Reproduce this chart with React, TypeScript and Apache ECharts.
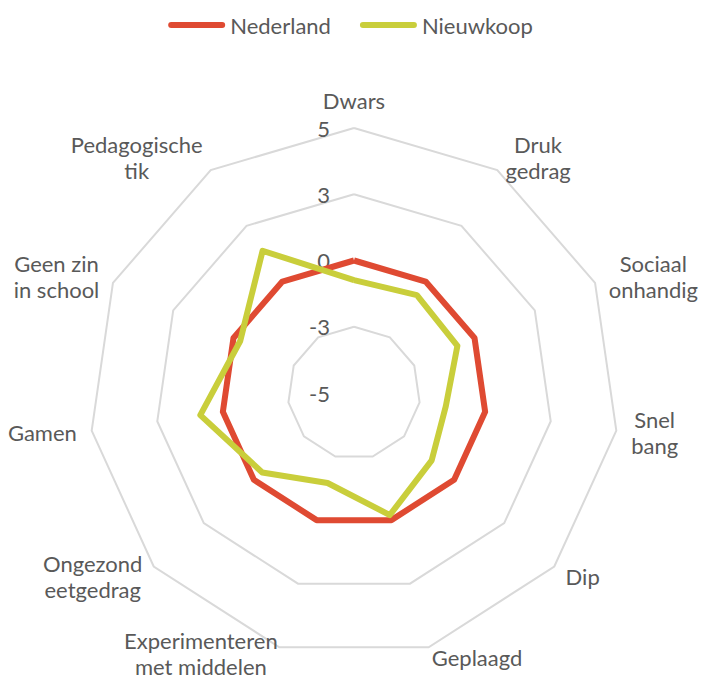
import React, { useEffect, useRef } from "react";
import * as echarts from "echarts";

const CATEGORIES = [
  "Dwars",
  "Druk\ngedrag",
  "Sociaal\nonhandig",
  "Snel\nbang",
  "Dip",
  "Geplaagd",
  "Experimenteren\nmet middelen",
  "Ongezond\neetgedrag",
  "Gamen",
  "Geen zin\nin school",
  "Pedagogische\ntik",
];
const SERIES_NAMES = ["Nederland", "Nieuwkoop"];
const NEDERLAND = [0, 0, 0, 0, 0, 0, 0, 0, 0, 0, 0];
const NIEUWKOOP = [-0.74, -0.61, -0.71, -1.5, -1.12, -0.2, -1.46, -0.42, 0.86, -0.28, 1.38];
const AXIS_MIN = -5;
const AXIS_MAX = 5;
const AXIS_SPLITS = 4;

// layout only: distance of each category name from the outer ring
const NAME_GAPS = [15, 15, 15, 15, 15, 11, 6, 15, 15, 15, 15];

const COLORS = ["#DF4A32", "#C9CE3B"];
const TEXT = "#595959";
const FONT = "Lato, 'Open Sans', sans-serif";
const FS = 22;

const roundAway = (v: number) => {
  const r = Math.sign(v) * Math.round(Math.abs(v));
  return r === 0 ? "0" : String(r);
};

// ECharts lays radar axes out counter-clockwise; reorder so they read clockwise
const ORDER = [0, ...CATEGORIES.map((_, i) => i).slice(1).reverse()];
const reorder = <T,>(arr: T[]) => ORDER.map((i) => arr[i]);

export default function App() {
  const ref = useRef<HTMLDivElement>(null);
  useEffect(() => {
    if (!ref.current) return;
    const chart = echarts.init(ref.current, null, { renderer: "svg" });
    const capsule = "path://M3,0 L54,0 A3,3 0 0 1 54,6 L3,6 A3,3 0 0 1 3,0 Z";
    chart.setOption({
      animation: false,
      backgroundColor: "#fff",
      legend: {
        data: SERIES_NAMES,
        top: 9,
        left: "center",
        icon: capsule,
        itemWidth: 57,
        itemHeight: 6,
        itemGap: 29,
        textStyle: { color: TEXT, fontSize: FS, fontFamily: FONT },
      },
      radar: {
        center: [354, 393],
        radius: 265,
        startAngle: 90,
        shape: "polygon",
        splitNumber: AXIS_SPLITS,
        indicator: ORDER.map((i) => {
          const base: any = { name: CATEGORIES[i], min: AXIS_MIN, max: AXIS_MAX, nameGap: NAME_GAPS[i] };
          if (i === 0) base.axisLabel = { show: true };
          return base;
        }),
        axisName: {
          color: TEXT,
          fontSize: FS,
          fontFamily: FONT,
          formatter: (name: string) =>
            name
              .split("\n")
              .map((l) => `{c|${l}}`)
              .join("\n"),
          rich: {
            c: { align: "center", color: TEXT, fontSize: FS, fontFamily: FONT, lineHeight: 26 },
          },
        },
        nameGap: 15,
        axisLine: { show: false },
        axisTick: { show: false },
        splitArea: { show: false },
        splitLine: { lineStyle: { color: "#D9D9D9", width: 2 } },
        axisLabel: {
          show: false,
          color: TEXT,
          fontSize: FS,
          fontFamily: FONT,
          margin: 24,
          formatter: (v: number) => roundAway(v),
        },
      },
      series: [
        {
          type: "radar",
          symbol: "none",
          data: [
            {
              name: SERIES_NAMES[0],
              value: reorder(NEDERLAND),
              lineStyle: { color: COLORS[0], width: 6 },
              itemStyle: { color: COLORS[0] },
            },
            {
              name: SERIES_NAMES[1],
              value: reorder(NIEUWKOOP),
              lineStyle: { color: COLORS[1], width: 6 },
              itemStyle: { color: COLORS[1] },
            },
          ],
        },
      ],
    });
    return () => chart.dispose();
  }, []);
  return (
    <div
      ref={ref}
      style={{ position: "fixed", left: 0, top: 0, width: 701, height: 682 }}
    />
  );
}
